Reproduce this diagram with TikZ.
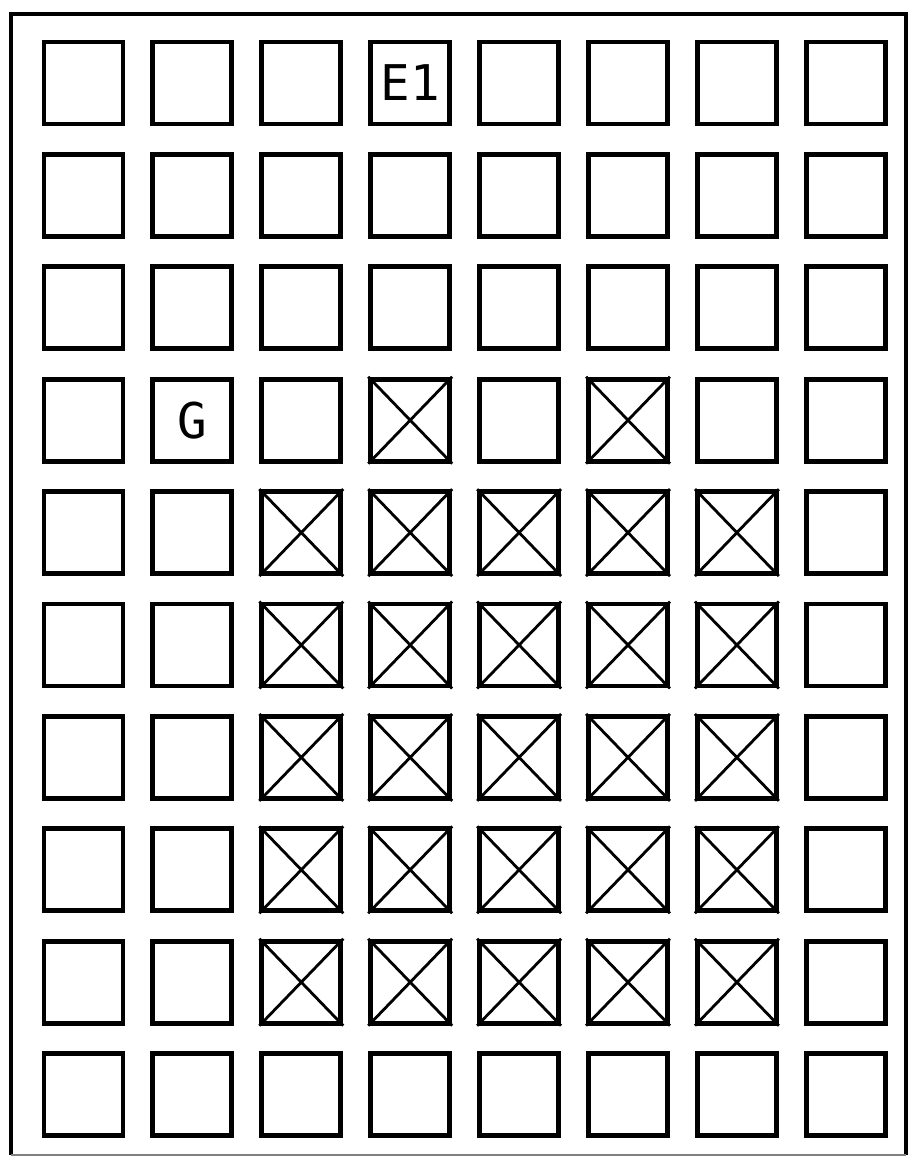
\documentclass[tikz,border=0pt]{standalone}
\usepackage{fontspec}
\newfontfamily\gridfont{DejaVu Sans Mono}
\tikzset{
  cell/.style={
    rectangle,
    draw=black, line width=2.8pt,
    minimum width=1.58cm,
    minimum height=1.64cm,
    inner sep=0pt},
  tag/.style={font=\gridfont\fontsize{28}{28}\selectfont, inner sep=0pt},
  blocked/.style={line width=1.6pt},
  frame/.style={line width=2.2pt},
}

\begin{document}
\begin{tikzpicture}
\useasboundingbox (0,0) rectangle (18.16,-23.14);

% the 10 x 8 grid of cells
\foreach \r in {0,...,9}
  \foreach \c in {0,...,7}
    \node[cell] at ({1.67+2.178*\c},{-1.66-2.248*\r}) (c-\r-\c) {};

\node[tag] at (c-0-3) (e1) {E1};
\node[tag] at (c-3-1) (goal) {G};

% crossed-out cells
\foreach \r/\c in {3/3,3/5}
  \draw[blocked] (c-\r-\c.north west) -- (c-\r-\c.south east)
                 (c-\r-\c.north east) -- (c-\r-\c.south west);
\foreach \r in {4,...,8}
  \foreach \c in {2,...,6}
    \draw[blocked] (c-\r-\c.north west) -- (c-\r-\c.south east)
                   (c-\r-\c.north east) -- (c-\r-\c.south west);

% outer frame
\draw[frame] (18.12,-23.1) -- (18.12,-0.28) -- (0.22,-0.28) -- (0.22,-23.1);
\draw[gray, line width=0.8pt] (0.22,-23.1) -- (18.12,-23.1);
\end{tikzpicture}
\end{document}
